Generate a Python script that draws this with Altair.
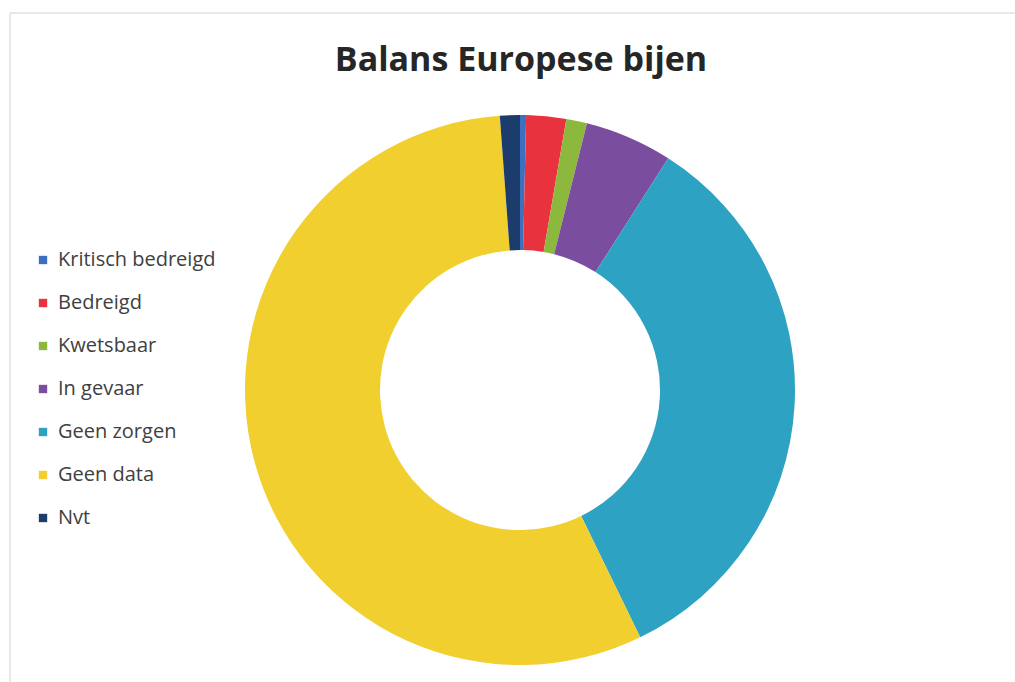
import altair as alt
import pandas as pd

categories = ["Kritisch bedreigd", "Bedreigd", "Kwetsbaar", "In gevaar",
              "Geen zorgen", "Geen data", "Nvt"]
counts = [7, 46, 24, 101, 663, 1101, 23]
colors = ["#3d6fbf", "#e8333f", "#8cb83e", "#7a4d9e", "#2ea2c2", "#f1cf2f", "#1c3c6b"]
title_text = ["Balans Europese bijen"]

df = pd.DataFrame({"cat": categories, "n": counts, "ord": list(range(len(categories)))})

donut = alt.Chart(df).mark_arc(outerRadius=275, innerRadius=140).encode(
    theta=alt.Theta("n:Q", stack=True),
    order=alt.Order("ord:Q"),
    x=alt.value(520),
    y=alt.value(390),
    color=alt.Color(
        "cat:N",
        scale=alt.Scale(domain=categories, range=colors),
        sort=categories,
        legend=alt.Legend(
            title=None, orient="none", legendX=33, legendY=250,
            symbolType="square", symbolSize=70, symbolStrokeWidth=0,
            labelFont="Open Sans", labelFontSize=20, labelColor="#404040",
            labelOffset=5, rowPadding=23, labelLimit=300,
        ),
    ),
)

title = alt.Chart(pd.DataFrame({"t": title_text})).mark_text(
    font="Open Sans", fontSize=34, fontWeight="bold", color="#262626",
    align="center", baseline="middle",
).encode(text="t:N", x=alt.value(521), y=alt.value(61))

frame_top = alt.Chart(pd.DataFrame({"a": [0]})).mark_rule(color="#e8e8e8", strokeWidth=2).encode(
    x=alt.value(10), x2=alt.value(1015), y=alt.value(13))
frame_left = alt.Chart(pd.DataFrame({"a": [0]})).mark_rule(color="#e8e8e8", strokeWidth=2).encode(
    x=alt.value(10), y=alt.value(13), y2=alt.value(682))

chart = alt.layer(frame_top, frame_left, donut, title).properties(
    width=1015, height=682, padding=0, autosize=alt.AutoSizeParams(type="none"),
    background="white",
).configure_view(stroke=None)

chart.save("out.html", embed_options={"renderer": "svg", "actions": False})
